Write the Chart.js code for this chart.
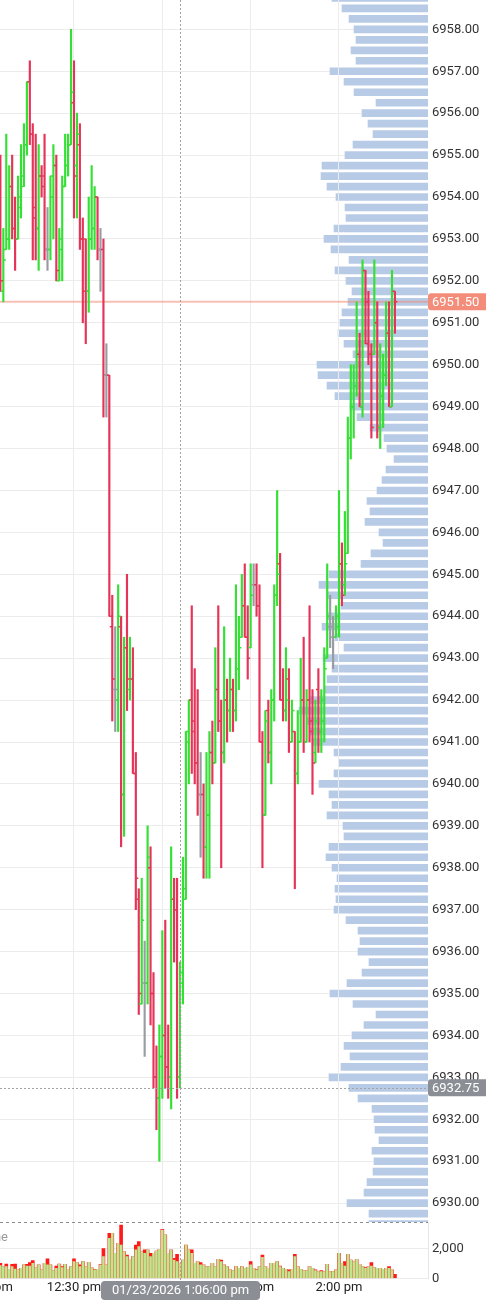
<!DOCTYPE html>
<html>
<head>
<meta charset="utf-8">
<title>1 min bars with volume profile</title>
<script src="https://cdn.jsdelivr.net/npm/chart.js@4.4.1/dist/chart.umd.min.js"></script>
<style>
  body { margin: 0; background: #fff; }
  #wrap { position: relative; width: 486px; height: 1305px; overflow: hidden; background: #fff; }
  canvas { position: absolute; left: 0; }
</style>
</head>
<body>
<div id="wrap">
  <canvas id="profile" width="486" height="1222" style="top:0"></canvas>
  <canvas id="price" width="486" height="1222" style="top:0"></canvas>
  <canvas id="volume" width="486" height="83" style="top:1222px"></canvas>
</div>
<script>
// 1 minute bars, minutes after 12:00 pm, first bar is 12:05
const firstMinute = 5;

const openP = [
  6954.50, 6951.75, 6952.75, 6953.00, 6954.25, 6953.25, 6953.00, 6953.75, 6954.50, 6955.25,
  6956.75, 6955.50, 6953.75, 6953.25, 6954.50, 6954.50, 6952.75, 6952.75, 6954.00, 6954.75,
  6952.00, 6952.75, 6954.25, 6954.75, 6955.25, 6956.25, 6954.75, 6955.25, 6953.00, 6953.00,
  6951.75, 6953.00, 6953.25, 6954.00, 6952.75, 6952.75, 6949.75, 6949.75, 6943.75, 6942.25,
  6942.00, 6943.75, 6939.75, 6943.25, 6942.25, 6942.50, 6940.25, 6937.25, 6934.75, 6935.25,
  6935.25, 6938.00, 6935.00, 6933.00, 6932.50, 6933.50, 6934.00, 6933.25, 6933.00, 6937.25,
  6937.00, 6933.00, 6935.25, 6937.25, 6941.00, 6942.00, 6941.25, 6940.50, 6939.75, 6939.75,
  6938.50, 6939.25, 6940.75, 6940.50, 6942.25, 6941.50, 6940.75, 6942.00, 6941.75, 6942.25,
  6941.75, 6942.75, 6943.50, 6944.25, 6943.50, 6943.25, 6944.75, 6944.75, 6944.25, 6941.00,
  6939.25, 6941.75, 6940.75, 6942.00, 6944.50, 6945.25, 6942.00, 6941.75, 6942.50, 6941.00,
  6941.25, 6940.25, 6941.00, 6942.00, 6941.00, 6942.00, 6941.50, 6940.75, 6942.25, 6941.25,
  6941.50, 6943.00, 6943.75, 6943.50, 6943.50, 6943.75, 6945.25, 6944.75, 6945.50, 6948.25,
  6949.00, 6949.50, 6950.25, 6949.00, 6952.25, 6951.50, 6950.25, 6950.25, 6951.00, 6948.50,
  6949.25, 6949.75, 6950.75, 6949.00, 6951.75
];
const highP = [
  6955.00, 6953.25, 6955.50, 6954.75, 6955.00, 6954.00, 6954.50, 6955.25, 6955.75, 6956.75,
  6957.25, 6955.75, 6955.50, 6955.25, 6954.75, 6955.50, 6953.75, 6954.50, 6955.25, 6955.00,
  6953.25, 6954.50, 6955.50, 6955.50, 6958.00, 6957.25, 6956.00, 6955.75, 6953.50, 6953.00,
  6954.00, 6954.75, 6954.25, 6954.00, 6953.25, 6953.00, 6950.50, 6949.75, 6944.50, 6943.75,
  6944.75, 6944.00, 6943.50, 6945.00, 6943.50, 6943.25, 6940.75, 6937.50, 6937.75, 6936.25,
  6939.00, 6938.50, 6935.50, 6933.75, 6934.25, 6936.50, 6936.75, 6934.25, 6938.50, 6937.75,
  6937.75, 6935.75, 6938.25, 6941.25, 6942.00, 6944.25, 6942.75, 6942.25, 6940.75, 6940.00,
  6940.75, 6941.25, 6941.50, 6943.25, 6944.25, 6942.00, 6943.75, 6942.50, 6943.00, 6942.50,
  6944.75, 6944.00, 6945.00, 6945.25, 6944.25, 6945.25, 6945.25, 6945.25, 6944.75, 6941.25,
  6941.75, 6942.00, 6942.25, 6944.75, 6947.00, 6945.50, 6942.75, 6943.25, 6942.75, 6942.00,
  6941.25, 6941.75, 6943.00, 6943.50, 6942.25, 6944.25, 6942.25, 6942.00, 6942.75, 6942.25,
  6943.25, 6945.25, 6944.50, 6944.00, 6944.25, 6947.00, 6945.75, 6946.50, 6948.75, 6950.00,
  6950.00, 6951.50, 6950.75, 6952.50, 6952.25, 6951.75, 6950.50, 6952.50, 6951.50, 6950.50,
  6950.25, 6951.50, 6951.50, 6952.25, 6951.75
];
const lowP = [
  6951.75, 6951.50, 6952.75, 6952.75, 6953.00, 6952.25, 6953.00, 6953.50, 6954.25, 6955.00,
  6955.25, 6952.50, 6952.50, 6952.25, 6954.00, 6952.50, 6952.25, 6952.50, 6953.00, 6952.00,
  6952.00, 6952.00, 6954.25, 6954.50, 6955.25, 6953.50, 6953.50, 6952.75, 6951.00, 6950.50,
  6951.25, 6952.75, 6952.75, 6952.50, 6951.75, 6948.75, 6948.75, 6944.00, 6941.50, 6941.25,
  6941.25, 6938.50, 6938.75, 6941.75, 6942.00, 6940.25, 6937.00, 6934.50, 6934.75, 6933.50,
  6934.75, 6934.25, 6932.75, 6931.75, 6931.00, 6932.50, 6932.75, 6932.50, 6932.25, 6935.75,
  6932.50, 6932.75, 6934.75, 6937.25, 6940.00, 6940.25, 6940.00, 6939.25, 6938.25, 6937.75,
  6937.75, 6937.75, 6940.00, 6940.50, 6941.25, 6938.00, 6940.50, 6941.00, 6941.25, 6941.25,
  6941.50, 6942.25, 6943.50, 6943.50, 6942.50, 6943.25, 6944.25, 6944.00, 6941.00, 6938.00,
  6939.25, 6940.50, 6940.00, 6941.50, 6944.25, 6942.00, 6941.50, 6941.50, 6940.75, 6941.00,
  6937.50, 6940.00, 6941.00, 6940.75, 6941.00, 6941.00, 6939.75, 6940.50, 6940.75, 6940.75,
  6941.00, 6943.00, 6943.25, 6942.75, 6943.50, 6943.50, 6944.25, 6944.50, 6945.50, 6947.75,
  6948.25, 6949.25, 6949.00, 6948.75, 6950.50, 6950.00, 6948.25, 6950.25, 6948.25, 6948.00,
  6948.50, 6949.50, 6949.00, 6949.00, 6950.75
];
const closeP = [
  6952.00, 6952.50, 6953.00, 6954.25, 6953.25, 6953.00, 6954.00, 6954.25, 6955.25, 6956.75,
  6955.50, 6953.50, 6953.25, 6954.50, 6954.25, 6952.75, 6952.75, 6954.50, 6954.75, 6952.25,
  6953.00, 6954.25, 6954.75, 6955.25, 6956.50, 6954.50, 6955.50, 6953.00, 6951.75, 6951.75,
  6953.00, 6953.25, 6954.00, 6952.75, 6952.75, 6949.75, 6949.75, 6944.00, 6942.50, 6942.25,
  6944.00, 6939.75, 6943.25, 6942.50, 6942.50, 6940.25, 6937.75, 6935.00, 6936.75, 6935.25,
  6938.25, 6935.00, 6933.00, 6932.50, 6933.50, 6934.00, 6933.25, 6933.00, 6937.25, 6937.00,
  6933.00, 6935.50, 6937.50, 6941.25, 6942.00, 6941.50, 6940.50, 6939.75, 6939.75, 6938.50,
  6939.25, 6940.75, 6940.50, 6942.25, 6941.50, 6940.75, 6942.00, 6941.75, 6942.25, 6941.75,
  6942.75, 6943.25, 6944.25, 6943.50, 6943.00, 6944.50, 6944.75, 6944.25, 6941.00, 6939.25,
  6941.50, 6940.75, 6942.00, 6944.50, 6945.00, 6942.00, 6941.75, 6942.00, 6941.00, 6941.75,
  6940.25, 6941.00, 6942.00, 6941.00, 6942.00, 6941.25, 6940.50, 6941.50, 6941.25, 6942.00,
  6942.75, 6944.00, 6943.75, 6943.50, 6944.00, 6945.25, 6944.50, 6945.25, 6948.25, 6949.00,
  6949.50, 6950.25, 6949.00, 6952.25, 6950.50, 6950.25, 6948.50, 6951.00, 6948.50, 6949.25,
  6949.75, 6950.75, 6949.00, 6951.75, 6951.50
];

// volume per bar (red = total, green = up volume)
const volume = [
  1000, 780, 950, 600, 930, 950, 560, 670, 890, 930,
  1040, 1180, 710, 890, 560, 1000, 1290, 890, 510, 820,
  950, 780, 930, 600, 780, 1290, 1040, 890, 1110, 780,
  1070, 710, 600, 600, 930, 1980, 890, 3000, 3000, 1670,
  2330, 3550, 1780, 1550, 1220, 1440, 2220, 2440, 1780, 1890,
  1890, 1670, 1670, 1820, 1930, 3260, 2890, 1670, 1890, 1330,
  1600, 1000, 1220, 2220, 1890, 1890, 1000, 1110, 1040, 890,
  780, 780, 1000, 780, 1270, 1220, 890, 780, 560, 510,
  780, 670, 780, 670, 730, 1110, 670, 600, 780, 1550,
  780, 670, 1000, 1000, 1110, 820, 670, 600, 560, 600,
  1600, 780, 600, 510, 510, 780, 670, 560, 440, 510,
  440, 930, 440, 440, 560, 1670, 1000, 1110, 1600, 1220,
  1110, 1270, 930, 780, 710, 780, 1040, 710, 670, 670,
  600, 670, 780, 560, 270
];
const upVolume = [
  840, 780, 780, 600, 780, 620, 560, 670, 890, 820,
  820, 1000, 710, 890, 560, 1000, 890, 890, 510, 670,
  950, 710, 930, 600, 780, 1110, 1040, 780, 1110, 780,
  1070, 710, 560, 600, 890, 1440, 890, 2660, 3000, 1670,
  2330, 2220, 1780, 1440, 1220, 1440, 1890, 2110, 1780, 1670,
  1890, 1440, 1670, 1820, 1930, 3220, 2890, 1670, 1890, 1220,
  1110, 1000, 1220, 2220, 1890, 1670, 1000, 1110, 890, 890,
  780, 780, 1000, 780, 1270, 1110, 890, 780, 560, 510,
  780, 670, 780, 670, 730, 890, 670, 560, 780, 1400,
  780, 670, 1000, 1000, 1110, 780, 670, 600, 440, 600,
  1440, 780, 600, 510, 510, 780, 670, 510, 440, 440,
  440, 930, 440, 440, 560, 1670, 1000, 820, 1600, 1220,
  1110, 1270, 930, 780, 670, 780, 820, 710, 670, 670,
  600, 670, 670, 560, 0
];

// volume profile, one row per 0.25 tick from the top row down
const profileTop = 6958.75;
const tickSize = 0.25;
const profileSize = [
  960, 860, 790, 740, 720, 770, 720, 980, 840, 740,
  520, 660, 600, 550, 750, 830, 1060, 1070, 1010, 920,
  830, 820, 940, 1040, 970, 790, 930, 820, 760, 800,
  860, 880, 900, 840, 750, 1110, 1100, 1010, 930, 780,
  710, 580, 440, 410, 340, 420, 460, 510, 610, 580,
  630, 490, 450, 570, 670, 990, 1090, 1010, 870, 1000,
  1060, 930, 840, 1050, 960, 1010, 1030, 1180, 1290, 1210,
  1180, 1160, 940, 890, 940, 1090, 990, 960, 1010, 850,
  840, 990, 1020, 960, 910, 930, 920, 940, 820, 700,
  680, 700, 590, 660, 810, 980, 750, 520, 640, 760,
  840, 780, 870, 990, 790, 700, 560, 540, 530, 490,
  560, 540, 550, 610, 640, 810, 590, 590
];

const timeTicks = [0, 30, 60, 90, 120];
const volumeTicks = [0, 2000];
const lastPrice = closeP[closeP.length - 1];
const crossTime = 66;
const crossPrice = 6932.75;
const crossLabel = '01/23/2026 1:06:00 pm';

// visible window
const xMin = 4.87, xMax = 150.23;
const yMin = 6929.55, yMax = 6958.70;

const times = openP.map((_, i) => firstMinute + i);
const profilePrices = profileSize.map((_, i) => profileTop - i * tickSize);

Chart.defaults.font.family = 'Roboto';
Chart.defaults.font.size = 13;
Chart.defaults.color = '#333';

const UP = '#34e034', DOWN = '#e63459', FLAT = '#9a9ca3';
function barColor(i) {
  if (closeP[i] > openP[i]) return UP;
  if (closeP[i] < openP[i]) return DOWN;
  return FLAT;
}

function fmtTime(m) {
  const h = 12 + Math.floor(m / 60);
  const hh = h > 12 ? h - 12 : h;
  return hh + ':' + String(m % 60).padStart(2, '0') + ' pm';
}

function noPad(s) {
  s.paddingLeft = 0; s.paddingRight = 0; s.paddingTop = 0; s.paddingBottom = 0;
}

const gridColor = '#ececec';

// ---- volume profile (bottom layer, carries the price axis)
new Chart(document.getElementById('profile'), {
  type: 'bar',
  data: {
    datasets: [{
      data: profilePrices.map((p, i) => ({ x: profileSize[i], y: p })),
      backgroundColor: '#b7cbe6',
      barThickness: 7
    }]
  },
  options: {
    indexAxis: 'y',
    responsive: false,
    animation: false,
    events: [],
    plugins: { legend: { display: false }, tooltip: { enabled: false } },
    scales: {
      x: { type: 'linear', min: 0, max: 4280, reverse: true, display: false },
      y: {
        type: 'linear', position: 'right', min: yMin, max: yMax, offset: false,
        ticks: { stepSize: 1, includeBounds: false, padding: 4, color: '#333',
          callback: v => v.toFixed(2) },
        grid: { color: gridColor, drawTicks: false, offset: false },
        border: { display: false },
        afterFit: s => { s.width = 58; noPad(s); }
      }
    }
  }
});

// ---- OHLC bars
const ohlcTicks = {
  id: 'ohlcTicks',
  afterDatasetsDraw(chart) {
    const { ctx, chartArea: a, scales: { y } } = chart;
    const meta = chart.getDatasetMeta(0);
    ctx.save();
    ctx.beginPath();
    ctx.rect(a.left, a.top, a.right - a.left, a.bottom - a.top);
    ctx.clip();
    ctx.lineWidth = 1.5;
    meta.data.forEach((bar, i) => {
      const yo = y.getPixelForValue(openP[i]);
      const yc = y.getPixelForValue(closeP[i]);
      ctx.strokeStyle = barColor(i);
      ctx.beginPath();
      ctx.moveTo(bar.x - 2.5, yo); ctx.lineTo(bar.x, yo);
      ctx.moveTo(bar.x, yc); ctx.lineTo(bar.x + 2.5, yc);
      ctx.stroke();
    });
    ctx.restore();
  }
};

function priceTag(chart, value, text, bg) {
  const { ctx, chartArea: a, scales: { y } } = chart;
  const py = y.getPixelForValue(value);
  ctx.fillStyle = bg;
  ctx.beginPath();
  ctx.roundRect(a.right, py - 8.5, chart.width - a.right + 4, 17, 3);
  ctx.fill();
  ctx.fillStyle = '#fff';
  ctx.font = '13px Roboto';
  ctx.textAlign = 'left';
  ctx.textBaseline = 'middle';
  ctx.fillText(text, a.right + 4, py + 0.5);
}

const markers = {
  id: 'markers',
  beforeDatasetsDraw(chart) {
    const { ctx, chartArea: a, scales: { y } } = chart;
    const yl = y.getPixelForValue(lastPrice);
    ctx.save();
    ctx.strokeStyle = 'rgba(242,140,118,0.55)';
    ctx.lineWidth = 2;
    ctx.beginPath(); ctx.moveTo(a.left, yl); ctx.lineTo(a.right, yl); ctx.stroke();
    ctx.restore();
  },
  afterDatasetsDraw(chart) {
    const { ctx, chartArea: a, scales: { x, y } } = chart;
    ctx.save();
    ctx.strokeStyle = '#a4a4a4';
    ctx.lineWidth = 1;
    ctx.setLineDash([2, 2]);
    const yc = Math.round(y.getPixelForValue(crossPrice)) + 0.5;
    ctx.beginPath(); ctx.moveTo(a.left, yc); ctx.lineTo(a.right, yc); ctx.stroke();
    const xc = Math.round(x.getPixelForValue(crossTime)) + 0.5;
    ctx.beginPath(); ctx.moveTo(xc, a.top); ctx.lineTo(xc, a.bottom); ctx.stroke();
    ctx.restore();
  },
  afterDraw(chart) {
    chart.ctx.save();
    priceTag(chart, lastPrice, lastPrice.toFixed(2), '#f38d79');
    priceTag(chart, crossPrice, crossPrice.toFixed(2), '#8b8e94');
    chart.ctx.restore();
  }
};

new Chart(document.getElementById('price'), {
  type: 'bar',
  data: {
    datasets: [{
      data: times.map((t, i) => ({ x: t, y: [lowP[i], highP[i]] })),
      backgroundColor: times.map((_, i) => barColor(i)),
      barThickness: 1.5,
      grouped: false
    }]
  },
  options: {
    responsive: false,
    animation: false,
    events: [],
    layout: { padding: { right: 58 } },
    plugins: { legend: { display: false }, tooltip: { enabled: false } },
    scales: {
      x: {
        type: 'linear', min: xMin, max: xMax, offset: false,
        afterBuildTicks: s => { s.ticks = timeTicks.map(v => ({ value: v })); },
        ticks: { display: false },
        grid: { color: gridColor, drawTicks: false, offset: false },
        border: { display: false },
        afterFit: s => { s.height = 0; noPad(s); }
      },
      y: { type: 'linear', min: yMin, max: yMax, display: false }
    }
  },
  plugins: [markers, ohlcTicks]
});

// ---- volume pane
const volumeDecor = {
  id: 'volumeDecor',
  afterDraw(chart) {
    const { ctx, chartArea: a, scales: { x } } = chart;
    ctx.save();
    ctx.lineWidth = 1;
    ctx.strokeStyle = '#8c8c8c';
    ctx.setLineDash([3, 3]);
    ctx.beginPath(); ctx.moveTo(a.left, a.top + 0.5); ctx.lineTo(a.right, a.top + 0.5); ctx.stroke();

    const xc = Math.round(x.getPixelForValue(crossTime)) + 0.5;
    ctx.strokeStyle = '#a4a4a4';
    ctx.setLineDash([2, 2]);
    ctx.beginPath(); ctx.moveTo(xc, a.top); ctx.lineTo(xc, a.bottom + 3); ctx.stroke();
    ctx.setLineDash([]);

    ctx.fillStyle = '#9a9a9a';
    ctx.font = '13px Roboto';
    ctx.textAlign = 'right';
    ctx.textBaseline = 'middle';
    ctx.fillText('Volume', 8, 16);

    ctx.font = '13px Roboto';
    const w = ctx.measureText(crossLabel).width + 22;
    ctx.fillStyle = '#8b8e94';
    ctx.beginPath();
    ctx.roundRect(xc - w / 2, 59, w, 19, 4);
    ctx.fill();
    ctx.fillStyle = '#fff';
    ctx.textAlign = 'center';
    ctx.fillText(crossLabel, xc, 69);
    ctx.restore();
  }
};

new Chart(document.getElementById('volume'), {
  type: 'bar',
  data: {
    datasets: [
      {
        data: times.map((t, i) => ({ x: t, y: upVolume[i] })),
        backgroundColor: '#bfe68e',
        barThickness: 2,
        grouped: false,
        order: 1
      },
      {
        data: times.map((t, i) => ({ x: t, y: volume[i] })),
        backgroundColor: '#ff1a1a',
        barThickness: 3,
        grouped: false,
        order: 2
      }
    ]
  },
  options: {
    responsive: false,
    animation: false,
    events: [],
    plugins: { legend: { display: false }, tooltip: { enabled: false } },
    scales: {
      x: {
        type: 'linear', min: xMin, max: xMax, offset: false,
        afterBuildTicks: s => { s.ticks = timeTicks.map(v => ({ value: v })); },
        ticks: { callback: v => fmtTime(v), padding: 2, color: '#222', autoSkip: false, maxRotation: 0 },
        grid: { color: gridColor, drawTicks: false, offset: false },
        border: { display: false },
        afterFit: s => { s.height = 26.7; noPad(s); }
      },
      y: {
        type: 'linear', position: 'right', min: 0, max: 3753,
        afterBuildTicks: s => { s.ticks = volumeTicks.map(v => ({ value: v })); },
        ticks: { padding: 4, color: '#333', callback: v => v.toLocaleString('en-US') },
        grid: { color: gridColor, drawTicks: false },
        border: { display: true, color: '#e6e6e6' },
        afterFit: s => { s.width = 58; noPad(s); }
      }
    }
  },
  plugins: [volumeDecor]
});
</script>
</body>
</html>
